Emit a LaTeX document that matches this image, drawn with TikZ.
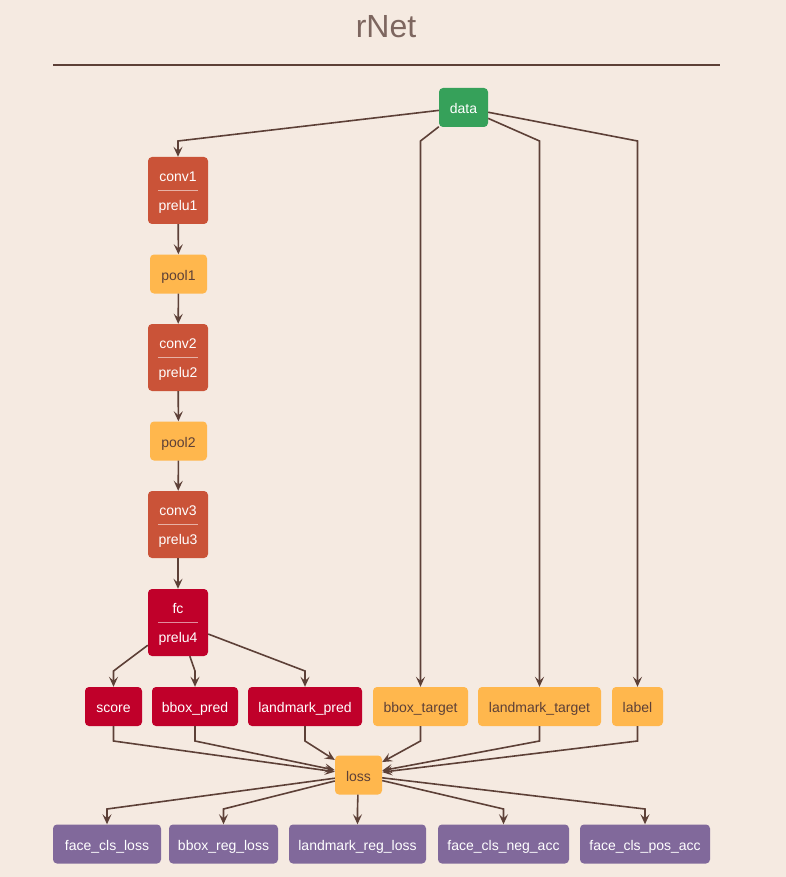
\documentclass[tikz,border=0pt]{standalone}
\usepackage{fontspec}
\setmainfont{Liberation Sans}
\usetikzlibrary{arrows.meta}
\definecolor{bgc}{HTML}{F5EAE1}
\definecolor{linec}{HTML}{5D4037}
\definecolor{greenc}{HTML}{36A15A}
\definecolor{convc}{HTML}{CA5338}
\definecolor{orangec}{HTML}{FFB74D}
\definecolor{fcc}{HTML}{C0002A}
\definecolor{purplec}{HTML}{81699B}
\tikzset{
  box/.style={rounded corners=4pt, minimum height=39pt, inner sep=0pt,
    font=\fontsize{14}{16}\selectfont, text=white,
    text height=16pt, text depth=3.5pt},
  gbox/.style={box, fill=greenc},
  obox/.style={box, fill=orangec, text=linec},
  pbox/.style={box, fill=purplec},
  rbox/.style={box, fill=fcc},
  dbl/.style={rounded corners=4pt, inner sep=0pt, text=white,
    minimum width=60pt, minimum height=67pt, align=center,
    font=\fontsize{14}{29}\selectfont, text height=43pt, text depth=3.5pt},
  convbox/.style={dbl, fill=convc},
  fcbox/.style={dbl, fill=fcc},
  sepline/.style={draw=white, opacity=0.55, line width=0.8pt},
  edge/.style={draw=linec, line width=1.6pt,
    -{Stealth[length=10pt, width=9pt, inset=4pt]}},
}
\begin{document}
\begin{tikzpicture}[x=1pt, y=-1pt]
  \fill[bgc] (0,0) rectangle (786,877);
  \useasboundingbox (0,0) rectangle (786,877);

  % title and rule
  \node[text=linec!80, font=\fontsize{32}{36}\selectfont] (title) at (386,27) {rNet};
  \draw[linec, line width=1.1pt] (53,65) coordinate (ruleL) -- (720,65) coordinate (ruleR);

  % rank levels for edge bends
  \coordinate (r1) at (0,141);
  \coordinate (r2) at (0,671);
  \coordinate (r3) at (0,741);
  \coordinate (r4) at (0,809);

  % nodes
  \node[gbox, minimum width=49pt] (data) at (463.5,107.5) {data};
  \node[convbox] (conv1) at (178,190.5) {conv1\\prelu1};
  \node[obox, minimum width=57pt] (pool1) at (178.5,274) {pool1};
  \node[convbox] (conv2) at (178,357.5) {conv2\\prelu2};
  \node[obox, minimum width=57pt] (pool2) at (178.5,441) {pool2};
  \node[convbox] (conv3) at (178,524.5) {conv3\\prelu3};
  \node[fcbox] (fc) at (178,622.5) {fc\\prelu4};

  \node[rbox, minimum width=57pt] (score) at (113.5,706.5) {score};
  \node[rbox, minimum width=86pt] (bboxpred) at (195,706.5) {bbox\_pred};
  \node[rbox, minimum width=114pt] (lmpred) at (305,706.5) {landmark\_pred};
  \node[obox, minimum width=95pt] (bboxtgt) at (420.5,706.5) {bbox\_target};
  \node[obox, minimum width=123pt] (lmtgt) at (539.5,706.5) {landmark\_target};
  \node[obox, minimum width=51pt] (label) at (637.5,706.5) {label};

  \node[obox, minimum width=47pt] (loss) at (358.5,775) {loss};

  \node[pbox, minimum width=108pt] (fcl) at (107,844) {face\_cls\_loss};
  \node[pbox, minimum width=109pt] (brl) at (223.5,844) {bbox\_reg\_loss};
  \node[pbox, minimum width=137pt] (lrl) at (357.5,844) {landmark\_reg\_loss};
  \node[pbox, minimum width=131pt] (neg) at (503.5,844) {face\_cls\_neg\_acc};
  \node[pbox, minimum width=130pt] (pos) at (645,844) {face\_cls\_pos\_acc};

  % separators inside the two-part layers
  \foreach \n in {conv1,conv2,conv3,fc}
    \draw[sepline] ([xshift=10pt]\n.west) -- ([xshift=-10pt]\n.east);

  % edges from data
  \draw[edge] (data) -- (conv1.center |- r1) -- (conv1);
  \draw[edge] (data) -- (bboxtgt.center |- r1) -- (bboxtgt);
  \draw[edge] (data) -- (lmtgt.center |- r1) -- (lmtgt);
  \draw[edge] (data) -- (label.center |- r1) -- (label);

  % main trunk
  \draw[edge] (conv1) -- (pool1);
  \draw[edge] (pool1) -- (conv2);
  \draw[edge] (conv2) -- (pool2);
  \draw[edge] (pool2) -- (conv3);
  \draw[edge] (conv3) -- (fc);

  % heads
  \draw[edge] (fc) -- (score.center |- r2) -- (score);
  \draw[edge] (fc) -- (bboxpred.center |- r2) -- (bboxpred);
  \draw[edge] (fc) -- (lmpred.center |- r2) -- (lmpred);

  % into the loss layer
  \foreach \n in {score,bboxpred,lmpred,bboxtgt,lmtgt,label}
    \draw[edge] (\n) -- (\n.center |- r3) -- (loss);

  % loss outputs
  \foreach \n in {fcl,brl,lrl,neg,pos}
    \draw[edge] (loss) -- (\n.center |- r4) -- (\n);
\end{tikzpicture}
\end{document}
